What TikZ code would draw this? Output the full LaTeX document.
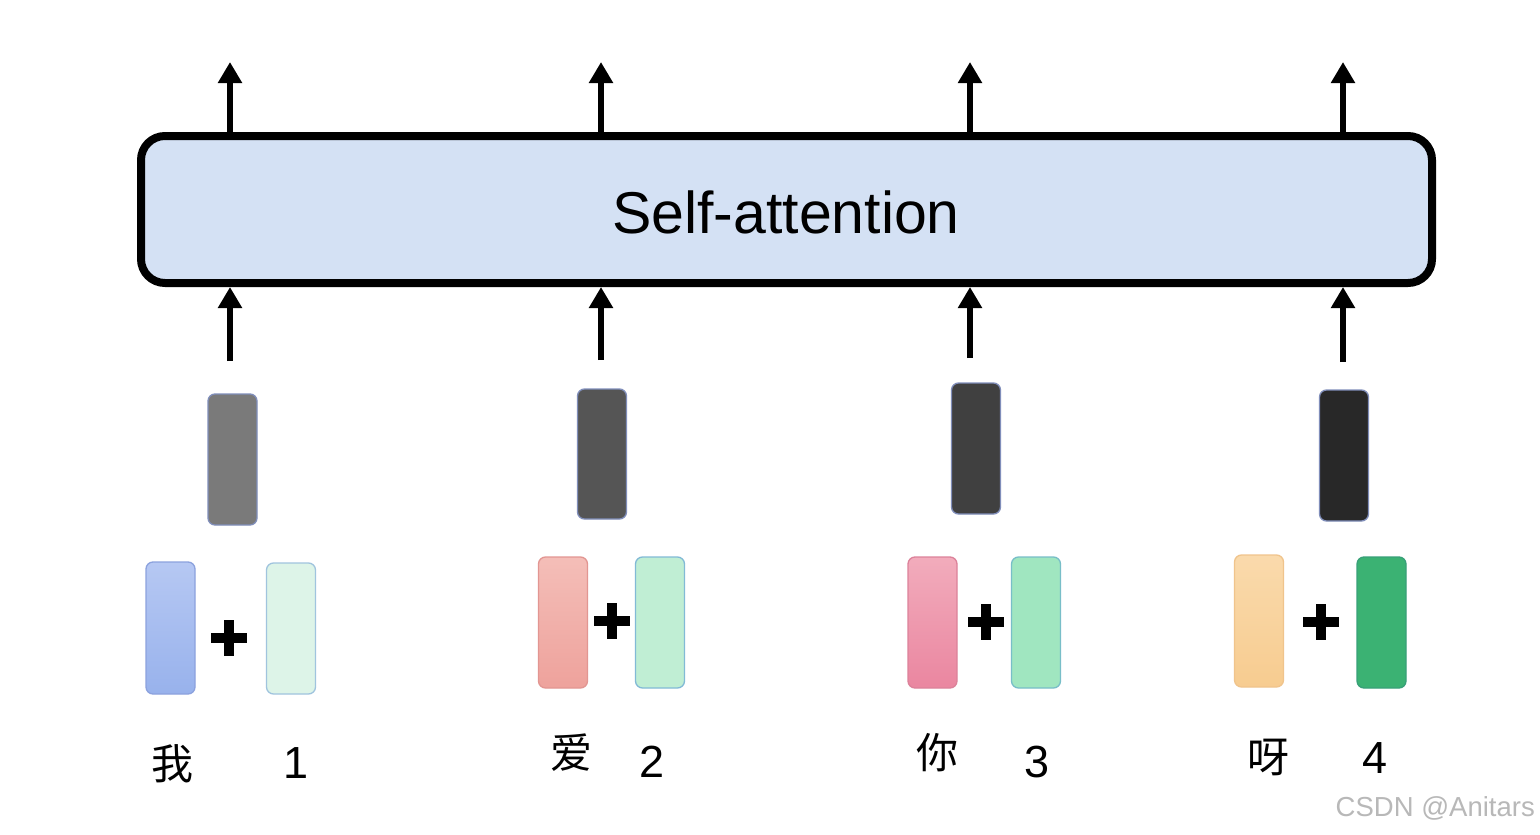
\documentclass[tikz,border=0pt]{standalone}
\usepackage{fontspec}
\setmainfont{Liberation Sans}
\newfontfamily\cjk{Noto Sans CJK SC}
\usetikzlibrary{arrows.meta}
\definecolor{safill}{RGB}{212,225,244}
\definecolor{vecedge}{RGB}{128,142,186}
\definecolor{gA}{RGB}{122,122,122}
\definecolor{gB}{RGB}{85,85,85}
\definecolor{gC}{RGB}{64,64,64}
\definecolor{gD}{RGB}{40,40,40}
\definecolor{blueT}{RGB}{182,200,243}
\definecolor{blueB}{RGB}{152,178,236}
\definecolor{blueE}{RGB}{140,162,222}
\definecolor{lgreen}{RGB}{221,244,232}
\definecolor{lgreenE}{RGB}{160,196,222}
\definecolor{redT}{RGB}{244,190,184}
\definecolor{redB}{RGB}{238,162,156}
\definecolor{redE}{RGB}{226,150,146}
\definecolor{green2}{RGB}{192,238,212}
\definecolor{green2E}{RGB}{130,186,214}
\definecolor{pinkT}{RGB}{242,172,188}
\definecolor{pinkB}{RGB}{234,134,160}
\definecolor{pinkE}{RGB}{220,130,154}
\definecolor{mint}{RGB}{160,230,192}
\definecolor{mintE}{RGB}{120,190,200}
\definecolor{orT}{RGB}{250,218,172}
\definecolor{orB}{RGB}{247,204,144}
\definecolor{orE}{RGB}{240,196,140}
\definecolor{dgreen}{RGB}{59,178,115}
\definecolor{dgreenE}{RGB}{56,160,120}
\begin{document}
\begin{tikzpicture}[x=1pt,y=-1pt,
  vec/.style={rounded corners=7pt, line width=1.3pt, inner sep=0pt, outer sep=0pt,
    minimum width=49pt, minimum height=131pt},
  arr/.style={line width=5.5pt, -{Triangle[width=23pt,length=21pt]}},
  sabox/.style={draw=black, line width=8pt, rounded corners=24pt, fill=safill,
    minimum width=1291pt, minimum height=147pt, inner sep=0pt},
  salabel/.style={font=\fontsize{59pt}{70pt}\selectfont, inner sep=0pt},
  tok/.style={font=\cjk\fontsize{42pt}{50pt}\selectfont, inner sep=0pt},
  num/.style={font=\fontsize{45pt}{54pt}\selectfont, inner sep=0pt},
  plusmark/.pic={\draw[line width=10pt] (-18,0) -- (18,0) (0,-18) -- (0,18);}
]
\useasboundingbox[fill=white] (0,0) rectangle (1540,835);

% self-attention block
\node[sabox] (sa) at (786.5,209.5) {};
\node[salabel] (lbl) at (786,212) {Self-attention};

% arrow end coordinates
\coordinate (out1) at (230,62);
\coordinate (out2) at (601,62);
\coordinate (out3) at (970,62);
\coordinate (out4) at (1343,62);
\coordinate (in1) at (230,361);
\coordinate (in2) at (601,360);
\coordinate (in3) at (970,358);
\coordinate (in4) at (1343,362);

\foreach \i in {1,2,3,4}{
  \draw[arr] (sa.north -| out\i) -- (out\i);
  \draw[arr] (in\i) -- (in\i |- sa.south);
}

% summed vectors (gray)
\node[vec, draw=vecedge, fill=gA] (s1) at (232.5,459.5) {};
\node[vec, draw=vecedge, fill=gB, minimum height=130pt] (s2) at (602,454) {};
\node[vec, draw=vecedge, fill=gC] (s3) at (976,448.5) {};
\node[vec, draw=vecedge, fill=gD] (s4) at (1344,455.5) {};

% word vectors and position vectors
\node[vec, draw=blueE, top color=blueT, bottom color=blueB, minimum height=132pt] (w1) at (170.5,628) {};
\node[vec, draw=lgreenE, fill=lgreen] (p1) at (291,628.5) {};
\node[vec, draw=redE, top color=redT, bottom color=redB] (w2) at (563,622.5) {};
\node[vec, draw=green2E, fill=green2] (p2) at (660,622.5) {};
\node[vec, draw=pinkE, top color=pinkT, bottom color=pinkB] (w3) at (932.5,622.5) {};
\node[vec, draw=mintE, fill=mint] (p3) at (1036,622.5) {};
\node[vec, draw=orE, top color=orT, bottom color=orB, minimum height=132pt] (w4) at (1259,621) {};
\node[vec, draw=dgreenE, fill=dgreen] (p4) at (1381.5,622.5) {};

% plus signs
\pic at (229,638) {plusmark};
\pic at (612,621) {plusmark};
\pic at (986,622) {plusmark};
\pic at (1321,622) {plusmark};

% labels
\node[tok] (t1) at (172,764) {我};
\node[num] (n1) at (296,763) {1};
\node[tok] (t2) at (571,753) {爱};
\node[num] (n2) at (652,762) {2};
\node[tok] (t3) at (937,753) {你};
\node[num] (n3) at (1037,762) {3};
\node[tok] (t4) at (1268,757) {呀};
\node[num] (n4) at (1375,758) {4};

% watermark
\node[anchor=east, text=black!28, font=\fontsize{27.5pt}{32pt}\selectfont, inner sep=0pt] (wm) at (1535,808) {CSDN @Anitars};
\end{tikzpicture}
\end{document}
